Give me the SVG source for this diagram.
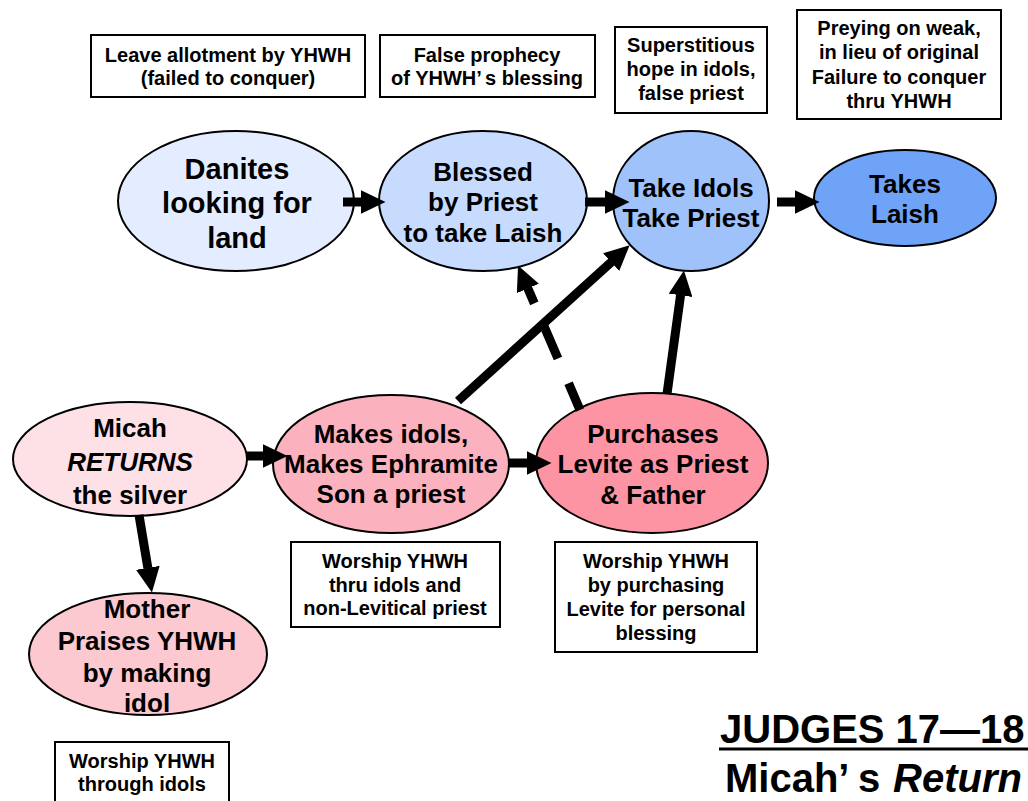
<svg xmlns="http://www.w3.org/2000/svg" width="1028" height="801" viewBox="0 0 1028 801">
  <style>
    .node { stroke: #000; stroke-width: 2; }
    .box { fill: #fff; stroke: #000; stroke-width: 2; }
    .nt { font-family: "Liberation Sans", Arial, sans-serif; font-weight: bold; fill: #000; text-anchor: middle; }
    .big { font-size: 26px; }
    .bt { font-family: "Liberation Sans", Arial, sans-serif; font-weight: bold; font-size: 20px; fill: #000; text-anchor: middle; }
    .edge { fill: none; stroke: #000; stroke-width: 9; stroke-linecap: butt; marker-end: url(#head); }
    .title { font-family: "Liberation Sans", Arial, sans-serif; font-weight: bold; font-size: 40px; fill: #000; }
  </style>
  <defs>
    <marker id="head" markerUnits="userSpaceOnUse" viewBox="0 -12 25 24" markerWidth="25" markerHeight="24" refX="0.5" refY="0" orient="auto">
      <path d="M0,-12 L25,0 L0,12 z" fill="#000"/>
    </marker>
  </defs>

  <rect width="1028" height="801" fill="#fff"/>

  <!-- note boxes -->
  <g id="note-allotment">
    <rect class="box" x="91" y="35" width="274" height="62"/>
    <text class="bt" x="228" y="62">Leave allotment by YHWH</text>
    <text class="bt" x="228" y="85">(failed to conquer)</text>
  </g>
  <g id="note-prophecy">
    <rect class="box" x="380" y="35" width="215" height="62"/>
    <text class="bt" x="487" y="62">False prophecy</text>
    <text class="bt" x="487" y="85">of YHWH’<tspan dx="4">s blessing</tspan></text>
  </g>
  <g id="note-superstitious">
    <rect class="box" x="615" y="27" width="152" height="86"/>
    <text class="bt" x="691" y="52">Superstitious</text>
    <text class="bt" x="691" y="76">hope in idols,</text>
    <text class="bt" x="691" y="100">false priest</text>
  </g>
  <g id="note-preying">
    <rect class="box" x="797" y="10" width="204" height="109"/>
    <text class="bt" x="899" y="35">Preying on weak,</text>
    <text class="bt" x="899" y="59">in lieu of original</text>
    <text class="bt" x="899" y="84">Failure to conquer</text>
    <text class="bt" x="899" y="108">thru YHWH</text>
  </g>
  <g id="note-idols-priest">
    <rect class="box" x="291" y="542" width="209" height="85"/>
    <text class="bt" x="395" y="568">Worship YHWH</text>
    <text class="bt" x="395" y="592">thru idols and</text>
    <text class="bt" x="395" y="615">non-Levitical priest</text>
  </g>
  <g id="note-purchasing">
    <rect class="box" x="555" y="542" width="202" height="110"/>
    <text class="bt" x="656" y="568">Worship YHWH</text>
    <text class="bt" x="656" y="592">by purchasing</text>
    <text class="bt" x="656" y="616">Levite for personal</text>
    <text class="bt" x="656" y="640">blessing</text>
  </g>
  <g id="note-through-idols">
    <rect class="box" x="55" y="742" width="174" height="70"/>
    <text class="bt" x="142" y="768">Worship YHWH</text>
    <text class="bt" x="142" y="791">through idols</text>
  </g>

  <!-- nodes -->
  <g id="danites">
    <ellipse class="node" cx="236" cy="201" rx="118" ry="70" fill="#e3edff"/>
    <text class="nt" x="237" y="179" font-size="29">Danites</text>
    <text class="nt" x="237" y="213" font-size="29">looking for</text>
    <text class="nt" x="237" y="248" font-size="29">land</text>
  </g>
  <g id="blessed">
    <ellipse class="node" cx="483" cy="201" rx="104" ry="70" fill="#c7dbfe"/>
    <text class="nt big" x="483" y="181">Blessed</text>
    <text class="nt big" x="483" y="211">by Priest</text>
    <text class="nt big" x="483" y="242">to take Laish</text>
  </g>
  <g id="take-idols">
    <ellipse class="node" cx="691" cy="201" rx="78" ry="70" fill="#a0c2fb"/>
    <text class="nt big" x="691" y="197">Take Idols</text>
    <text class="nt big" x="691" y="227">Take Priest</text>
  </g>
  <g id="takes-laish">
    <ellipse class="node" cx="905" cy="198" rx="91" ry="48" fill="#6ea3f7"/>
    <text class="nt big" x="905" y="193">Takes</text>
    <text class="nt big" x="905" y="223">Laish</text>
  </g>
  <g id="micah">
    <ellipse class="node" cx="130" cy="459" rx="117" ry="57" fill="#fde1e6"/>
    <text class="nt big" x="130" y="437">Micah</text>
    <text class="nt big" x="130" y="471"><tspan font-style="italic">RETURNS</tspan></text>
    <text class="nt big" x="130" y="504">the silver</text>
  </g>
  <g id="makes-idols">
    <ellipse class="node" cx="391" cy="464" rx="118" ry="69" fill="#fbb2be"/>
    <text class="nt big" x="391" y="443">Makes idols,</text>
    <text class="nt big" x="391" y="473">Makes Ephramite</text>
    <text class="nt big" x="391" y="503">Son a priest</text>
  </g>
  <g id="purchases">
    <ellipse class="node" cx="652" cy="463" rx="116" ry="70" fill="#fc94a3"/>
    <text class="nt big" x="653" y="443">Purchases</text>
    <text class="nt big" x="653" y="473">Levite as Priest</text>
    <text class="nt big" x="653" y="504">&amp; Father</text>
  </g>
  <g id="mother">
    <ellipse class="node" cx="148" cy="654" rx="119" ry="61" fill="#fcc9d1"/>
    <text class="nt big" x="147" y="618">Mother</text>
    <text class="nt big" x="147" y="650">Praises YHWH</text>
    <text class="nt big" x="147" y="682">by making</text>
    <text class="nt big" x="147" y="712">idol</text>
  </g>

  <!-- connectors -->
  <g id="connectors">
    <line class="edge" x1="343" y1="202" x2="361" y2="202"/>
    <line class="edge" x1="585" y1="202" x2="605" y2="202"/>
    <line class="edge" x1="777" y1="202" x2="795" y2="202"/>
    <line class="edge" x1="246" y1="456" x2="263" y2="456" stroke-width="8"/>
    <line class="edge" x1="508" y1="463" x2="527" y2="463"/>
    <line class="edge" x1="139" y1="515" x2="147.9" y2="568.3"/>
    <line class="edge" x1="458" y1="401" x2="611.5" y2="261.8"/>
    <line class="edge" x1="667" y1="394" x2="680.6" y2="294.8"/>
    <line class="edge" x1="580" y1="410" x2="527.7" y2="288" stroke-dasharray="29 27 36 24 40"/>
  </g>

  <!-- title -->
  <g id="title">
    <text class="title" x="720" y="743">JUDGES 17—18</text>
    <line x1="719" y1="749" x2="1028" y2="749" stroke="#000" stroke-width="3"/>
    <text class="title" y="792"><tspan x="725">Micah’</tspan><tspan x="858">s</tspan><tspan x="893" font-style="italic">Return</tspan></text>
  </g>
</svg>
